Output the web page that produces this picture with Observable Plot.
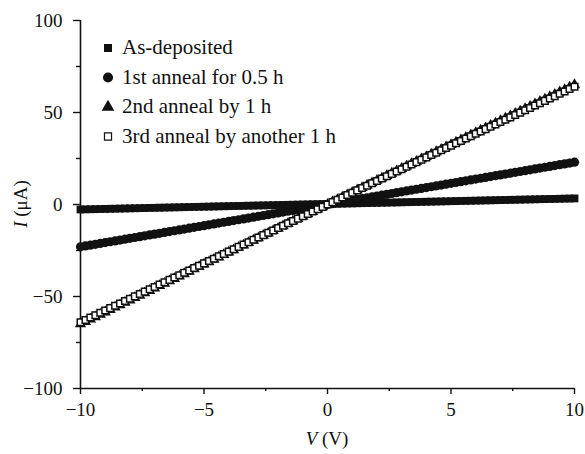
<!DOCTYPE html>
<html>
<head>
<meta charset="utf-8">
<script src="https://cdn.jsdelivr.net/npm/d3@7"></script>
<script src="https://cdn.jsdelivr.net/npm/@observablehq/plot@0.6"></script>
<style>
  html, body { margin: 0; padding: 0; background: #fff; }
  #chart { width: 585px; height: 454px; }
</style>
</head>
<body>
<div id="chart"></div>
<script>
// Applied voltage V (V)
const V = [-10,-9.8,-9.6,-9.4,-9.2,-9,-8.8,-8.6,-8.4,-8.2,-8,-7.8,-7.6,-7.4,-7.2,-7,-6.8,-6.6,-6.4,-6.2,
  -6,-5.8,-5.6,-5.4,-5.2,-5,-4.8,-4.6,-4.4,-4.2,-4,-3.8,-3.6,-3.4,-3.2,-3,-2.8,-2.6,-2.4,-2.2,
  -2,-1.8,-1.6,-1.4,-1.2,-1,-0.8,-0.6,-0.4,-0.2,0,0.2,0.4,0.6,0.8,1,1.2,1.4,1.6,1.8,
  2,2.2,2.4,2.6,2.8,3,3.2,3.4,3.6,3.8,4,4.2,4.4,4.6,4.8,5,5.2,5.4,5.6,5.8,
  6,6.2,6.4,6.6,6.8,7,7.2,7.4,7.6,7.8,8,8.2,8.4,8.6,8.8,9,9.2,9.4,9.6,9.8,10];

// Current I (µA) for each sample
const asDeposited = [-2.70,-2.64,-2.58,-2.52,-2.46,-2.40,-2.34,-2.28,-2.22,-2.16,-2.10,-2.04,-1.98,-1.92,-1.86,-1.80,-1.74,-1.68,-1.62,-1.56,
  -1.50,-1.44,-1.38,-1.32,-1.26,-1.20,-1.14,-1.08,-1.02,-0.96,-0.90,-0.84,-0.78,-0.72,-0.66,-0.60,-0.54,-0.48,-0.42,-0.36,
  -0.30,-0.24,-0.18,-0.12,-0.06,0.00,0.06,0.12,0.18,0.24,0.30,0.36,0.42,0.48,0.54,0.60,0.66,0.72,0.78,0.84,
  0.90,0.96,1.02,1.08,1.14,1.20,1.26,1.32,1.38,1.44,1.50,1.56,1.62,1.68,1.74,1.80,1.86,1.92,1.98,2.04,
  2.10,2.16,2.22,2.28,2.34,2.40,2.46,2.52,2.58,2.64,2.70,2.76,2.82,2.88,2.94,3.00,3.06,3.12,3.18,3.24,3.30];

const anneal1 = [-23.00,-22.54,-22.08,-21.62,-21.16,-20.70,-20.24,-19.78,-19.32,-18.86,-18.40,-17.94,-17.48,-17.02,-16.56,-16.10,-15.64,-15.18,-14.72,-14.26,
  -13.80,-13.34,-12.88,-12.42,-11.96,-11.50,-11.04,-10.58,-10.12,-9.66,-9.20,-8.74,-8.28,-7.82,-7.36,-6.90,-6.44,-5.98,-5.52,-5.06,
  -4.60,-4.14,-3.68,-3.22,-2.76,-2.30,-1.84,-1.38,-0.92,-0.46,0,0.46,0.92,1.38,1.84,2.30,2.76,3.22,3.68,4.14,
  4.60,5.06,5.52,5.98,6.44,6.90,7.36,7.82,8.28,8.74,9.20,9.66,10.12,10.58,11.04,11.50,11.96,12.42,12.88,13.34,
  13.80,14.26,14.72,15.18,15.64,16.10,16.56,17.02,17.48,17.94,18.40,18.86,19.32,19.78,20.24,20.70,21.16,21.62,22.08,22.54,23.00];

const anneal2 = [-65,-63.7,-62.4,-61.1,-59.8,-58.5,-57.2,-55.9,-54.6,-53.3,-52,-50.7,-49.4,-48.1,-46.8,-45.5,-44.2,-42.9,-41.6,-40.3,
  -39,-37.7,-36.4,-35.1,-33.8,-32.5,-31.2,-29.9,-28.6,-27.3,-26,-24.7,-23.4,-22.1,-20.8,-19.5,-18.2,-16.9,-15.6,-14.3,
  -13,-11.7,-10.4,-9.1,-7.8,-6.5,-5.2,-3.9,-2.6,-1.3,0,1.3,2.6,3.9,5.2,6.5,7.8,9.1,10.4,11.7,
  13,14.3,15.6,16.9,18.2,19.5,20.8,22.1,23.4,24.7,26,27.3,28.6,29.9,31.2,32.5,33.8,35.1,36.4,37.7,
  39,40.3,41.6,42.9,44.2,45.5,46.8,48.1,49.4,50.7,52,53.3,54.6,55.9,57.2,58.5,59.8,61.1,62.4,63.7,65];

const anneal3 = [-64,-62.72,-61.44,-60.16,-58.88,-57.6,-56.32,-55.04,-53.76,-52.48,-51.2,-49.92,-48.64,-47.36,-46.08,-44.8,-43.52,-42.24,-40.96,-39.68,
  -38.4,-37.12,-35.84,-34.56,-33.28,-32,-30.72,-29.44,-28.16,-26.88,-25.6,-24.32,-23.04,-21.76,-20.48,-19.2,-17.92,-16.64,-15.36,-14.08,
  -12.8,-11.52,-10.24,-8.96,-7.68,-6.4,-5.12,-3.84,-2.56,-1.28,0,1.28,2.56,3.84,5.12,6.4,7.68,8.96,10.24,11.52,
  12.8,14.08,15.36,16.64,17.92,19.2,20.48,21.76,23.04,24.32,25.6,26.88,28.16,29.44,30.72,32,33.28,34.56,35.84,37.12,
  38.4,39.68,40.96,42.24,43.52,44.8,46.08,47.36,48.64,49.92,51.2,52.48,53.76,55.04,56.32,57.6,58.88,60.16,61.44,62.72,64];

const seriesNames = ["As-deposited", "1st anneal for 0.5 h", "2nd anneal by 1 h", "3rd anneal by another 1 h"];

const xTicks = [-10, -5, 0, 5, 10];
const xMinorTicks = [-7.5, -2.5, 2.5, 7.5];
const yTicks = [-100, -50, 0, 50, 100];
const yMinorTicks = [-75, -25, 25, 75];

const toRows = (arr) => V.map((v, i) => ({V: v, I: arr[i]}));

const FONT = "'Liberation Serif', 'Times New Roman', serif";

const plot = Plot.plot({
  width: 585,
  height: 454,
  marginLeft: 80,
  marginRight: 11,
  marginTop: 20,
  marginBottom: 66,
  x: {domain: [-10, 10]},
  y: {domain: [-100, 100]},
  style: {fontFamily: FONT, background: "#fff", color: "#111", overflow: "visible"},
  marks: [
    Plot.axisY({ticks: yTicks, tickSize: 7, tickPadding: 11, fontSize: 19, label: null, strokeWidth: 1.4}),
    Plot.axisY({ticks: yMinorTicks, tickSize: 4, tickFormat: () => "", label: null, strokeWidth: 1.4}),
    Plot.axisX({ticks: xTicks, tickSize: 6, tickPadding: 8, fontSize: 19, label: null, strokeWidth: 1.4}),
    Plot.axisX({ticks: xMinorTicks, tickSize: 3, tickFormat: () => "", label: null, strokeWidth: 1.4}),
    Plot.ruleX([-10], {y1: -100, y2: 100, stroke: "#111", strokeWidth: 1.6}),
    Plot.ruleY([-100], {x1: -10, x2: 10, stroke: "#111", strokeWidth: 1.6}),
    Plot.dot(toRows(asDeposited), {x: "V", y: "I", symbol: "square", r: 4.4, fill: "#111", stroke: "none"}),
    Plot.dot(toRows(anneal1), {x: "V", y: "I", symbol: "circle", r: 4.6, fill: "#111", stroke: "none"}),
    Plot.dot(toRows(anneal2), {x: "V", y: "I", symbol: "triangle", r: 4.2, fill: "#111", stroke: "none"}),
    Plot.dot(toRows(anneal3), {x: "V", y: "I", symbol: "square", r: 3.7, fill: "#fff", stroke: "#111", strokeWidth: 1.5})
  ]
});

document.getElementById("chart").appendChild(plot);

// Axis titles with italic quantity symbols
const svg = d3.select(plot);
const yl = svg.append("text")
  .attr("transform", "translate(27,204) rotate(-90)")
  .attr("text-anchor", "middle")
  .attr("font-family", FONT)
  .attr("font-size", 19)
  .attr("fill", "#111");
yl.append("tspan").attr("font-style", "italic").text("I");
yl.append("tspan").text(" (μA)");

const xl = svg.append("text")
  .attr("x", 327).attr("y", 445)
  .attr("text-anchor", "middle")
  .attr("font-family", FONT)
  .attr("font-size", 19)
  .attr("fill", "#111");
xl.append("tspan").attr("font-style", "italic").text("V");
xl.append("tspan").text(" (V)");

// Legend
const legendSymbols = [
  {type: d3.symbolSquare, fill: "#111", stroke: "none", size: 64},
  {type: d3.symbolCircle, fill: "#111", stroke: "none", size: 80},
  {type: d3.symbolTriangle, fill: "#111", stroke: "none", size: 70},
  {type: d3.symbolSquare, fill: "#fff", stroke: "#111", size: 50}
];
const lg = svg.append("g").attr("transform", "translate(108,48)");
seriesNames.forEach((name, i) => {
  const row = lg.append("g").attr("transform", `translate(0,${i * 29.5})`);
  row.append("path")
    .attr("d", d3.symbol().type(legendSymbols[i].type).size(legendSymbols[i].size)())
    .attr("fill", legendSymbols[i].fill)
    .attr("stroke", legendSymbols[i].stroke)
    .attr("stroke-width", 1.2);
  row.append("text")
    .attr("x", 14).attr("y", 6)
    .attr("text-anchor", "start")
    .attr("font-family", FONT)
    .attr("font-size", 21)
    .attr("fill", "#111")
    .text(name);
});
</script>
</body>
</html>
